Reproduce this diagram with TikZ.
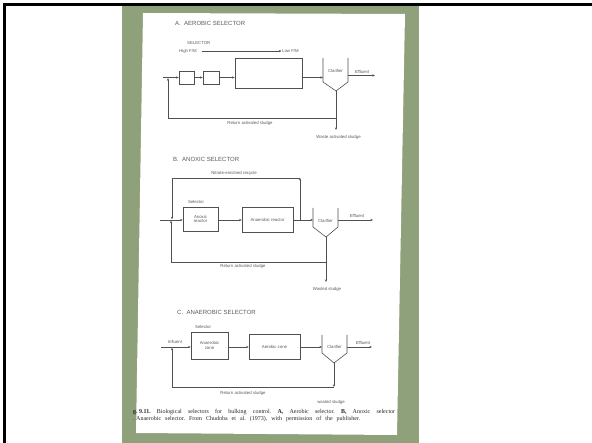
\documentclass[tikz,border=0pt]{standalone}
\usepackage{fontspec}
\setmainfont{Liberation Serif}
\newfontfamily\labfont{Liberation Sans}
\usetikzlibrary{arrows.meta,calc}
\definecolor{bggreen}{RGB}{142,161,122}
\definecolor{ink}{RGB}{80,80,80}
\definecolor{txt}{RGB}{90,90,90}
\frenchspacing
\begin{document}
\begin{tikzpicture}[x=1pt,y=-1pt,
  flow/.style={draw=ink,line width=0.6pt,-{Stealth[length=2.6pt,width=2.2pt]}},
  wire/.style={draw=ink,line width=0.6pt},
  unit/.style={draw=ink,line width=0.6pt,inner sep=0pt,font=\labfont\fontsize{4.3}{4.9}\selectfont,text=txt,align=center},
  lbl/.style={inner sep=0pt,font=\labfont\fontsize{4.3}{4.9}\selectfont,text=txt},
  ttl/.style={inner sep=0pt,anchor=west,font=\labfont\fontsize{6}{7}\selectfont,text=txt},
  captxt/.style={inner sep=0pt,anchor=west,font=\fontsize{6}{6.8}\selectfont,text=black!85}]
\useasboundingbox (0,0) rectangle (592,443);
\fill[white] (0,0) rectangle (592,443);
\fill[bggreen] (122,5) rectangle (419,443);
\fill[white] (143,13) -- (405,14) -- (397,435) -- (136,433) -- cycle;
\draw[black,line width=2.2pt] (4.5,443) -- (4.5,4.5) -- (592,4.5);

% ---------------- A. AEROBIC SELECTOR ----------------
\node[ttl] (tA) at (175,23) {A.\ \ AEROBIC SELECTOR};
\node[lbl,anchor=west] (selA) at (187,43) {SELECTOR};
\node[lbl,anchor=west] (hi) at (179,51) {High F/M};
\node[lbl,anchor=west] (lo) at (282,51) {Low F/M};
\draw[flow,shorten <=5pt,shorten >=0.5pt] (hi.east) -- (lo.west);
\coordinate (inA) at (163,77.5);
\node[unit,minimum width=15pt,minimum height=13pt] (a1) at (186.5,77.5) {};
\node[unit,minimum width=16pt,minimum height=13pt] (a2) at (211,77.5) {};
\node[unit,minimum width=67pt,minimum height=30pt] (a3) at (268.5,73) {};
\coordinate (cA1) at (323,58);
\coordinate (cA2) at (323,82);
\coordinate (cAt) at (336,91);
\coordinate (cA3) at (348,82);
\coordinate (cA4) at (348,58);
\draw[wire] (cA1) -- (cA2) -- (cAt) -- (cA3) -- (cA4);
\node[lbl] (clA) at (335.5,71) {Clarifier};
\draw[flow] (inA) -- (a1.west);
\draw[flow] (a1.east) -- (a2.west);
\draw[flow] (a2.east) -- (a2.east -| a3.west);
\draw[flow] (a2.east -| a3.east) -- (a2.east -| cA1);
\coordinate (effA) at (375,75.5);
\draw[flow] (effA -| cA4) -- (effA);
\node[lbl] (effAl) at (362,71.5) {Effluent};
\coordinate (jA) at (336,118);
\coordinate (wA) at (336,130);
\coordinate (rA) at (168,118);
\coordinate (rAe) at (168,78.2);
\draw[flow] (cAt) -- (wA);
\draw[flow] (jA) -- (rA) -- (rAe);
\node[lbl] (retA) at (250,123.5) {Return activated sludge};
\node[lbl] (wasA) at (338.5,137) {Waste activated sludge};

% ---------------- B. ANOXIC SELECTOR ----------------
\node[ttl] (tB) at (173,159) {B.\ \ ANOXIC SELECTOR};
\node[lbl] (nitB) at (234,173) {Nitrate-enriched recycle};
\node[lbl,anchor=west] (selB) at (188,202) {Selector};
\coordinate (inB) at (160,220);
\node[unit,minimum width=35pt,minimum height=24pt] (b1) at (200.5,219) {Anoxic\\reactor};
\node[unit,minimum width=51pt,minimum height=25pt] (b2) at (267.5,219.5) {Anaerobic reactor};
\coordinate (cB1) at (313,208);
\coordinate (cB2) at (313,227);
\coordinate (cBt) at (326,237);
\coordinate (cB3) at (338,227);
\coordinate (cB4) at (338,208);
\draw[wire] (cB1) -- (cB2) -- (cBt) -- (cB3) -- (cB4);
\node[lbl] (clB) at (325.5,221) {Clarifier};
\coordinate (lvB) at (218,220);
\draw[flow] (inB) -- (inB -| b1.west);
\draw[flow] (lvB) -- (lvB -| b2.west);
\draw[flow] (lvB -| b2.east) -- (lvB -| cB1);
\coordinate (rcB0) at (300,220);
\coordinate (rcB1) at (300,178);
\coordinate (rcB2) at (172,178);
\coordinate (rcB3) at (172,219.3);
\draw[flow] (rcB0) -- (rcB1);
\draw[flow] (rcB1) -- (rcB2) -- (rcB3);
\coordinate (effB) at (373,220);
\draw[flow] (effB -| cB4) -- (effB);
\node[lbl] (effBl) at (357,216) {Effluent};
\coordinate (jB) at (326,262);
\coordinate (wB) at (326,282);
\coordinate (rB) at (171,262);
\coordinate (rBe) at (171,220.7);
\draw[flow] (cBt) -- (wB);
\draw[flow] (jB) -- (rB) -- (rBe);
\node[lbl] (retB) at (243,266.5) {Return activated sludge};
\node[lbl] (wasB) at (327,289) {Wasted sludge};

% ---------------- C. ANAEROBIC SELECTOR ----------------
\node[ttl] (tC) at (177,312) {C.\ \ ANAEROBIC SELECTOR};
\node[lbl,anchor=west] (selC) at (195,327) {Selector};
\node[lbl] (infC) at (175,341.5) {Influent};
\coordinate (inC) at (161,347);
\node[unit,minimum width=37pt,minimum height=27pt] (c1) at (209.5,345.5) {Anaerobic\\zone};
\node[unit,minimum width=51pt,minimum height=25pt] (c2) at (274.5,346.5) {Aerobic zone};
\coordinate (cC1) at (322,335);
\coordinate (cC2) at (322,353);
\coordinate (cCt) at (334,363);
\coordinate (cC3) at (347,353);
\coordinate (cC4) at (347,335);
\draw[wire] (cC1) -- (cC2) -- (cCt) -- (cC3) -- (cC4);
\node[lbl] (clC) at (334.5,347) {Clarifier};
\draw[flow] (inC) -- (inC -| c1.west);
\draw[flow] (inC -| c1.east) -- (inC -| c2.west);
\draw[flow] (inC -| c2.east) -- (inC -| cC1);
\coordinate (effC) at (372,347);
\draw[flow] (effC -| cC4) -- (effC);
\node[lbl] (effCl) at (363,342.5) {Effluent};
\coordinate (jC) at (334,387);
\coordinate (rC) at (172,387);
\coordinate (rCe) at (172,347.7);
\draw[flow] (cCt) -- (jC);
\draw[flow] (jC) -- (rC) -- (rCe);
\node[lbl] (retC) at (243,393) {Return activated sludge};
\node[lbl] (wasC) at (331,402) {wasted sludge};

% ---------------- caption ----------------
\node[captxt] (cap1) at (133,412) {\makebox[262pt][s]{\textbf{g.\kern1.5pt9.11.}\quad Biological selectors for bulking control. \textbf{A,} Aerobic selector. \textbf{B,} Anoxic selector}};
\node[captxt] (cap2) at (133,419.5) {\makebox[227pt][s]{.\kern1.5pt Anaerobic selector. From Chudoba et al. (1973), with permission of the publisher.}};
\end{tikzpicture}
\end{document}
